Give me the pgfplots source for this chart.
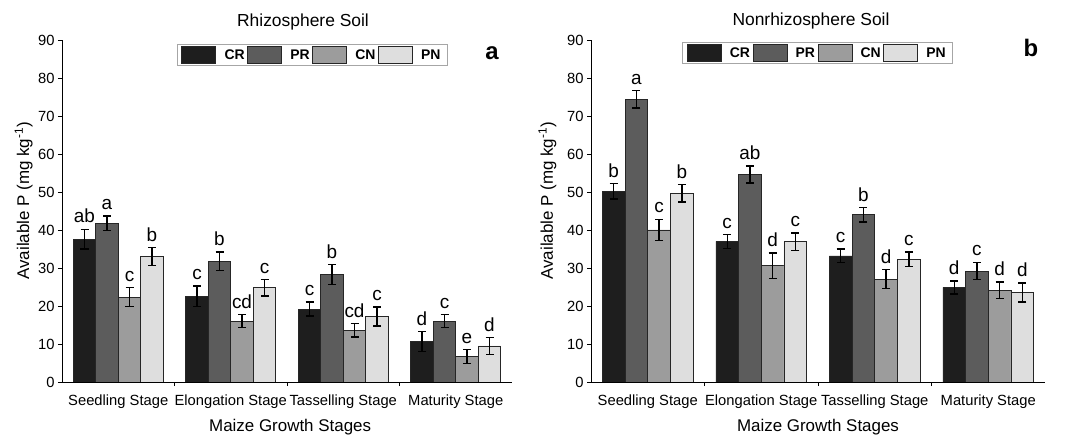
\documentclass[border=0pt]{standalone}
\usepackage{fontspec}
\setmainfont{Liberation Sans}
\usepackage{pgfplots}
\usepackage{pgfplotstable}
\pgfplotsset{compat=1.18}

\definecolor{cCR}{HTML}{1E1E1E}
\definecolor{cPR}{HTML}{5C5C5C}
\definecolor{cCN}{HTML}{9C9C9C}
\definecolor{cPN}{HTML}{DEDEDE}
\definecolor{edge}{HTML}{262626}

% mean, error and letter per stage
\pgfplotstableread{
g cr crE crL pr prE prL cn cnE cnL pn pnE pnL
1 37.6 2.6 ab 41.8 1.9 a 22.3 2.5 c 33.0 2.4 b
2 22.6 2.7 c 31.8 2.4 b 16.0 1.7 cd 24.8 2.2 c
3 19.2 1.8 c 28.3 2.6 b 13.6 1.8 cd 17.2 2.5 c
4 10.7 2.6 d 16.0 1.7 c 6.7 1.8 e 9.5 2.2 d
}\rhizo

\pgfplotstableread{
g cr crE crL pr prE prL cn cnE cnL pn pnE pnL
1 50.2 2.0 b 74.4 2.3 a 40.0 2.8 c 49.7 2.3 b
2 37.0 1.8 c 54.6 2.2 ab 30.6 3.3 d 36.9 2.3 c
3 33.2 1.8 c 44.0 1.9 b 27.1 2.5 d 32.3 1.9 c
4 24.9 1.7 d 29.2 2.3 c 24.1 2.2 d 23.5 2.5 d
}\nonrhizo

\pgfplotsset{
  panel/.style={
    scale only axis, height=342bp,
    xmin=0.5, xmax=4.5, ymin=0, ymax=90, ytick={0,10,...,90},
    axis x line*=bottom, axis y line*=left,
    axis line style={line width=0.9pt, black},
    tick align=outside, major tick length=4bp, minor tick length=4bp,
    tick style={line width=0.9pt, black},
    xtick={1,2,3,4},
    xticklabels={Seedling Stage, Elongation Stage, Tasselling Stage, Maturity Stage},
    every major x tick/.append style={draw=none},
    minor xtick={1.5,2.5,3.5},
    ticklabel style={font=\fontsize{14.8}{17}\selectfont},
    xticklabel style={yshift=-5bp},
    /pgf/number format/assume math mode=true,
    xlabel={Maize Growth Stages},
    ylabel={Available P (mg kg\textsuperscript{-1})},
    label style={font=\fontsize{17}{19}\selectfont},
    legend columns=4,
    legend style={draw=gray!70, line width=0.8pt, anchor=center,
      font=\bfseries\fontsize{14}{16}\selectfont,
      inner xsep=4bp, inner ysep=2bp,
      nodes={inner sep=2.5bp},
      /tikz/every odd column/.append style={column sep=6bp}},
  },
  bars/.style={
    ybar, bar width=0.2, bar shift=0pt, draw=edge, line width=0.6bp,
    legend image code/.code={\draw[##1, line width=0.6bp] (0bp,-8.5bp) rectangle (34bp,8.5bp);},
    error bars/y dir=both, error bars/y explicit,
    error bars/error bar style={line width=1.4bp, black},
    error bars/error mark options={rotate=90, mark size=4bp, line width=1.4bp, black},
  },
  lab/.style={
    forget plot, only marks, mark=none, nodes near coords,
    point meta=explicit symbolic,
    nodes near coords style={font=\fontsize{19}{21}\selectfont, anchor=south,
      inner sep=1bp, yshift=5bp, black},
  },
}

\newcommand{\groupbars}[1]{%
  \addplot[bars, fill=cCR] table[x expr=\thisrow{g}-0.3, y=cr, y error=crE] {#1};
  \addplot[bars, fill=cPR] table[x expr=\thisrow{g}-0.1, y=pr, y error=prE] {#1};
  \addplot[bars, fill=cCN] table[x expr=\thisrow{g}+0.1, y=cn, y error=cnE] {#1};
  \addplot[bars, fill=cPN] table[x expr=\thisrow{g}+0.3, y=pn, y error=pnE] {#1};
  \addplot[lab] table[x expr=\thisrow{g}-0.3, y expr=\thisrow{cr}+\thisrow{crE}, meta=crL] {#1};
  \addplot[lab] table[x expr=\thisrow{g}-0.1, y expr=\thisrow{pr}+\thisrow{prE}, meta=prL] {#1};
  \addplot[lab] table[x expr=\thisrow{g}+0.1, y expr=\thisrow{cn}+\thisrow{cnE}, meta=cnL] {#1};
  \addplot[lab] table[x expr=\thisrow{g}+0.3, y expr=\thisrow{pn}+\thisrow{pnE}, meta=pnL] {#1};
  \legend{CR, PR, CN, PN}
}

\begin{document}
\begin{tikzpicture}
\path[use as bounding box] (0,0) rectangle (1067bp,437bp);

\begin{axis}[panel, width=450bp, at={(62bp,55bp)}, anchor=south west,
  ylabel style={at={(axis description cs:-0.085,0.53)}, anchor=center},
  xlabel style={at={(axis description cs:0.507,-0.145)}, anchor=base},
  legend style={at={(axis description cs:0.556,0.956)}}]
\groupbars{\rhizo}
\end{axis}

\begin{axis}[panel, width=454bp, at={(591bp,55bp)}, anchor=south west,
  ylabel style={at={(axis description cs:-0.096,0.53)}, anchor=center},
  xlabel style={at={(axis description cs:0.5,-0.145)}, anchor=base},
  legend style={at={(axis description cs:0.499,0.962)}}]
\groupbars{\nonrhizo}
\end{axis}

\node[anchor=base, font=\fontsize{17.5}{20}\selectfont] at (303bp,410bp) {Rhizosphere Soil};
\node[anchor=base, font=\fontsize{17.5}{20}\selectfont] at (811bp,411bp) {Nonrhizosphere Soil};
\node[anchor=base, font=\bfseries\fontsize{24}{28}\selectfont] at (492bp,377bp) {a};
\node[anchor=base, font=\bfseries\fontsize{24}{28}\selectfont] at (1031bp,380bp) {b};
\end{tikzpicture}
\end{document}
